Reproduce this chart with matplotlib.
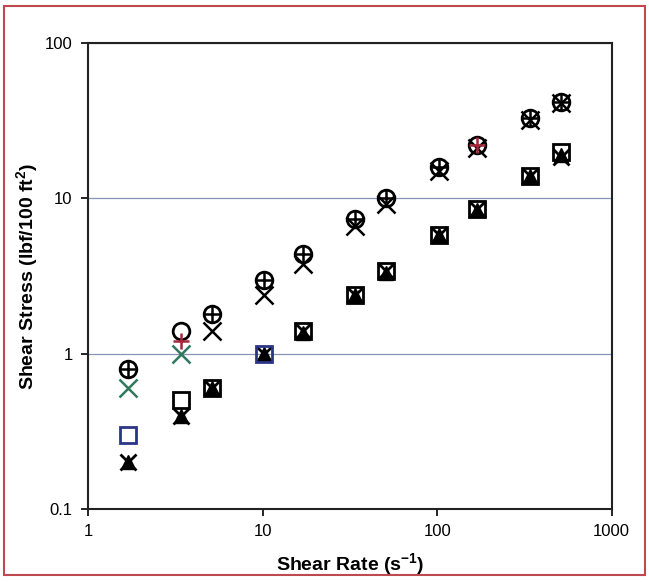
import matplotlib
matplotlib.use('Agg')
import matplotlib.pyplot as plt
from matplotlib.patches import Rectangle

plt.rcParams['font.family'] = 'Liberation Sans'
plt.rcParams['mathtext.fontset'] = 'custom'
plt.rcParams['mathtext.rm'] = 'Liberation Sans:bold'
plt.rcParams['mathtext.bf'] = 'Liberation Sans:bold'

# shear rates (s^-1), rotational viscometer speeds
shear_rate = [1.7, 3.4, 5.1, 10.2, 17, 34, 51, 102, 170, 340, 511]

# upper group
circle_vals = [0.8, 1.4, 1.8, 3.0, 4.4, 7.4, 10, 16, 22, 33, 42]
plus_vals = [0.8, 1.2, 1.8, 3.0, 4.4, 7.4, 10, 16, 22, 33, 42]
xup_vals = [0.6, 1.0, 1.4, 2.4, 3.8, 6.6, 9.2, 15, 21, 32, 41]

# lower group
square_vals = [0.3, 0.5, 0.6, 1.0, 1.4, 2.4, 3.4, 5.8, 8.6, 14, 20]
tri_vals = [0.2, 0.4, 0.6, 1.0, 1.35, 2.4, 3.3, 5.8, 8.4, 14, 19]
xlow_vals = [0.2, 0.4, 0.6, 1.0, 1.4, 2.4, 3.4, 5.8, 8.5, 14, 18.5]

fig = plt.figure(figsize=(6.49, 5.82), dpi=100)
ax = fig.add_axes([0.1356, 0.1254, 0.807, 0.8006])

ax.set_xscale('log')
ax.set_yscale('log')
ax.set_xlim(1, 1000)
ax.set_ylim(0.1, 100)

green = '#2f7a5e'
blue = '#2b3586'
red = '#a3283a'

ms = 11
# lower group
ax.plot(shear_rate, tri_vals, '^', color='k', ms=ms - 1, ls='none')
ax.plot(shear_rate, xlow_vals, 'x', color='k', ms=ms, mew=2, ls='none')
sq_colors = ['k'] * len(shear_rate)
sq_colors[0] = blue
sq_colors[3] = blue
for x, y, c in zip(shear_rate, square_vals, sq_colors):
    ax.plot(x, y, 's', mfc='none', mec=c, ms=ms + 1, mew=2)

# upper group
ax.plot(shear_rate[:2], xup_vals[:2], 'x', color=green, ms=ms + 2, mew=1.8, ls='none')
ax.plot(shear_rate[2:], xup_vals[2:], 'x', color='k', ms=ms + 2, mew=1.8, ls='none')
ax.plot(shear_rate, circle_vals, 'o', mfc='none', mec='k', ms=ms + 1, mew=2, ls='none')
plus_colors = ['k'] * len(shear_rate)
plus_colors[1] = red
plus_colors[8] = red
for x, y, c in zip(shear_rate, plus_vals, plus_colors):
    ax.plot(x, y, '+', color=c, ms=ms + 1, mew=1.8)

ax.yaxis.grid(True, which='major', color='#8796b8', lw=0.9)
ax.set_axisbelow(True)
ax.minorticks_off()
ax.set_xticks([1, 10, 100, 1000])
ax.set_xticklabels(['1', '10', '100', '1000'])
ax.set_yticks([0.1, 1, 10, 100])
ax.set_yticklabels(['0.1', '1', '10', '100'])
ax.tick_params(direction='out', length=5, width=1.2, labelsize=12, pad=6)
for s in ax.spines.values():
    s.set_linewidth(1.5)
    s.set_color('#222222')

ax.set_xlabel('Shear Rate (s$^{-1}$)', fontsize=14, fontweight='bold', labelpad=9)
ax.set_ylabel('Shear Stress (lbf/100 ft$^{2}$)', fontsize=14, fontweight='bold', labelpad=3)

fig.patches.append(Rectangle((0.006, 0.012), 0.988, 0.978, transform=fig.transFigure,
                             fill=False, edgecolor='#c04850', lw=1.5))

fig.savefig('out.png', dpi=100)
